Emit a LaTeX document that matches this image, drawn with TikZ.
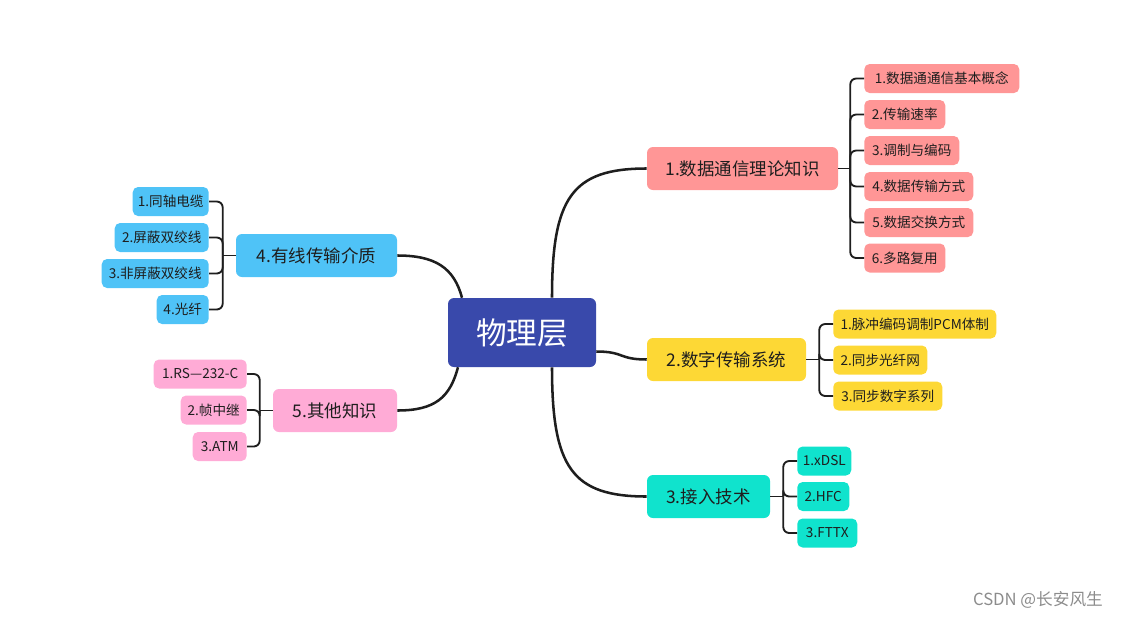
\documentclass[tikz,border=0pt]{standalone}
\usepackage{fontspec}
\setmainfont{Noto Sans CJK SC}
\usetikzlibrary{calc}

\definecolor{raizcor}{HTML}{3949AB}
\definecolor{rosa}{HTML}{FF9696}
\definecolor{amarelo}{HTML}{FDD835}
\definecolor{verde}{HTML}{10E3CD}
\definecolor{azul}{HTML}{4FC3F7}
\definecolor{lilas}{HTML}{FFABD6}
\definecolor{linha}{HTML}{1E1E1E}

\tikzset{
  raizbox/.style={rounded corners=4.5pt, fill=raizcor, text=white,
    font=\fontsize{23}{25}\selectfont, minimum width=111pt,
    minimum height=51.75pt, inner sep=0pt},
  topico/.style={rounded corners=4.5pt, text=linha,
    font=\fontsize{13.1}{15}\selectfont, minimum height=32.25pt, inner sep=0pt},
  folha/.style={rounded corners=4pt, text=linha,
    font=\fontsize{10.2}{12}\selectfont, minimum height=21.75pt, inner sep=0pt},
  galho/.style={draw=linha, line width=1.9pt},
  ramo/.style={draw=linha, line width=1.4pt, rounded corners=4.5pt},
}

\begin{document}
\begin{tikzpicture}[x=0.75pt, y=-0.75pt]
    \useasboundingbox (0,0) rectangle (1122,618);

    % Raiz
    \node[raizbox] (raiz) at (522,332.5) {物理层};

    % Tópicos
    \node[topico, fill=rosa, minimum width=143.25pt] (t1) at (742.5,168.5) {1.数据通信理论知识};
    \node[topico, fill=amarelo, minimum width=119.25pt] (t2) at (726.5,359.5) {2.数字传输系统};
    \node[topico, fill=verde, minimum width=92.25pt] (t3) at (708.5,496.5) {3.接入技术};
    \node[topico, fill=azul, minimum width=120.75pt] (t4) at (316.5,255.5) {4.有线传输介质};
    \node[topico, fill=lilas, minimum width=93pt] (t5) at (335,410.5) {5.其他知识};

    % Folhas do tópico 1
    \node[folha, fill=rosa, anchor=west, minimum width=116.25pt] (s11) at (864,78.5) {1.数据通通信基本概念};
    \node[folha, fill=rosa, anchor=west, minimum width=60.75pt] (s12) at (864,114.5) {2.传输速率};
    \node[folha, fill=rosa, anchor=west, minimum width=71.25pt] (s13) at (864,150.5) {3.调制与编码};
    \node[folha, fill=rosa, anchor=west, minimum width=81.75pt] (s14) at (864,186.5) {4.数据传输方式};
    \node[folha, fill=rosa, anchor=west, minimum width=81.75pt] (s15) at (864,222.5) {5.数据交换方式};
    \node[folha, fill=rosa, anchor=west, minimum width=60.75pt] (s16) at (864,258) {6.多路复用};

    % Folhas do tópico 2
    \node[folha, fill=amarelo, anchor=west, minimum width=122.25pt] (s21) at (833,324) {1.脉冲编码调制PCM体制};
    \node[folha, fill=amarelo, anchor=west, minimum width=70.5pt] (s22) at (833,360) {2.同步光纤网};
    \node[folha, fill=amarelo, anchor=west, minimum width=81.75pt] (s23) at (833,396) {3.同步数字系列};

    % Folhas do tópico 3
    \node[folha, fill=verde, anchor=west, minimum width=40.5pt] (s31) at (797,461) {1.xDSL};
    \node[folha, fill=verde, anchor=west, minimum width=39pt] (s32) at (797,496.5) {2.HFC};
    \node[folha, fill=verde, anchor=west, minimum width=45pt] (s33) at (797,533) {3.FTTX};

    % Folhas do tópico 4
    \node[folha, fill=azul, anchor=east, minimum width=57pt] (s41) at (209,201.5) {1.同轴电缆};
    \node[folha, fill=azul, anchor=east, minimum width=70.5pt] (s42) at (209,237.5) {2.屏蔽双绞线};
    \node[folha, fill=azul, anchor=east, minimum width=80.25pt] (s43) at (209,273.5) {3.非屏蔽双绞线};
    \node[folha, fill=azul, anchor=east, minimum width=39pt] (s44) at (209,309.5) {4.光纤};

    % Folhas do tópico 5
    \node[folha, fill=lilas, anchor=east, minimum width=69.75pt] (s51) at (247,374) {1.RS—232-C};
    \node[folha, fill=lilas, anchor=east, minimum width=49.5pt] (s52) at (247,410) {2.帧中继};
    \node[folha, fill=lilas, anchor=east, minimum width=40.5pt] (s53) at (247,446.5) {3.ATM};

    % Ligações da raiz aos tópicos
    \draw[galho] ($(raiz.north)+(30,0)$) .. controls +(0,-100) and +(-75,0) .. (t1.west);
    \draw[galho] ($(raiz.east)+(0,19)$) .. controls +(28,0) and +(-28,0) .. (t2.west);
    \draw[galho] ($(raiz.south)+(30,0)$) .. controls +(0,100) and +(-75,0) .. (t3.west);
    \draw[galho] ($(raiz.north)+(-60,0)$) .. controls +(-8,-30) and +(38,0) .. (t4.east);
    \draw[galho] ($(raiz.south)+(-64,0)$) .. controls +(-8,30) and +(38,0) .. (t5.east);

    % Chaves
    \coordinate (b1) at ($(t1.east)+(12,0)$);
    \coordinate (b2) at ($(t2.east)+(13,0)$);
    \coordinate (b3) at ($(t3.east)+(13,0)$);
    \coordinate (b4) at ($(t4.west)+(-13,0)$);
    \coordinate (b5) at ($(t5.west)+(-13,0)$);
    \draw[ramo] (t1.east) -- (b1);
    \draw[ramo] (t2.east) -- (b2);
    \draw[ramo] (t3.east) -- (b3);
    \draw[ramo] (t4.west) -- (b4);
    \draw[ramo] (t5.west) -- (b5);
    \foreach \i in {1,...,6} \draw[ramo] (b1) |- (s1\i.west);
    \foreach \i in {1,...,3} \draw[ramo] (b2) |- (s2\i.west);
    \foreach \i in {1,...,3} \draw[ramo] (b3) |- (s3\i.west);
    \foreach \i in {1,...,4} \draw[ramo] (b4) |- (s4\i.east);
    \foreach \i in {1,...,3} \draw[ramo] (b5) |- (s5\i.east);

    % Marca d'água
    \node[text=black!45, font=\fontsize{12.5}{14}\selectfont] (marca) at (1038,600) {CSDN @长安风生};

\end{tikzpicture}
\end{document}
